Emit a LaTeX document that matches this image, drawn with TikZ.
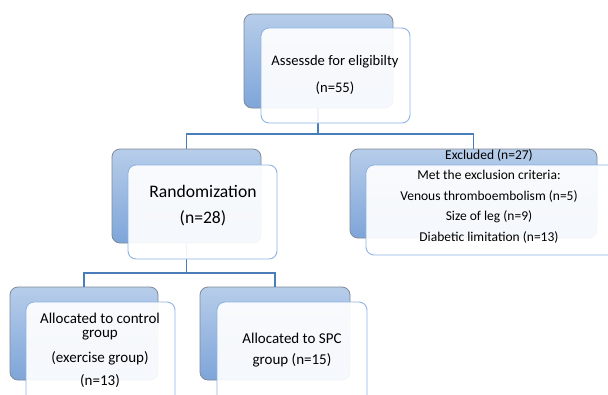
\documentclass[tikz,border=0pt]{standalone}
\usepackage{fontspec}
\setmainfont{Carlito}
\definecolor{bgtop}{HTML}{B7CDEA}
\definecolor{bgbot}{HTML}{7EA5D9}
\definecolor{bgdraw}{HTML}{7F8A96}
\definecolor{fgdraw}{HTML}{8DB4E3}
\definecolor{conn}{HTML}{4A7EBB}
\tikzset{
  backbox/.style={rectangle, rounded corners=8pt, draw=bgdraw, line width=0.8pt,
    top color=bgtop, bottom color=bgbot, inner sep=0pt, outer sep=0pt},
  frontbox/.style={rectangle, rounded corners=8pt, draw=fgdraw, line width=0.9pt,
    fill=white, fill opacity=0.92, draw opacity=1, inner sep=0pt, outer sep=0pt},
  conline/.style={draw=conn, line width=1.6pt},
  txt/.style={inner sep=0pt, align=center, text=black},
}
\begin{document}
\begin{tikzpicture}[x=1pt,y=-1pt]
\clip (0,0) rectangle (608,394);
\fill[white] (0,0) rectangle (608,394);
% back boxes
\node[backbox, minimum width=149pt, minimum height=94pt] (topb) at (318.5,61) {};
\node[backbox, minimum width=149pt, minimum height=94pt] (randb) at (186.5,196) {};
\node[backbox, minimum width=247pt, minimum height=89pt] (exclb) at (473.5,193.5) {};
\node[backbox, minimum width=148pt, minimum height=93pt] (ctrlb) at (84,333.5) {};
\node[backbox, minimum width=150pt, minimum height=93pt] (spcb) at (275,333.5) {};
% connectors (behind front boxes)
\coordinate (j1) at (318,134);
\coordinate (j2) at (186.5,273);
\draw[conline] (j1 |- topb.south) -- (j1);
\draw[conline] (randb.north) -- (randb.north |- j1) -- (exclb.north |- j1) -- (exclb.north);
\draw[conline] (j2 |- randb.south) -- (j2);
\draw[conline] (ctrlb.north) -- (ctrlb.north |- j2) -- (spcb.north |- j2) -- (spcb.north);
% front boxes
\node[frontbox, minimum width=149pt, minimum height=95pt] (topf) at (335.5,75.5) {};
\node[frontbox, minimum width=149pt, minimum height=94pt] (randf) at (202.5,212) {};
\node[frontbox, minimum width=252pt, minimum height=90pt] (exclf) at (492,210) {};
\node[frontbox, minimum width=149pt, minimum height=110pt] (ctrlf) at (100.5,357) {};
\node[frontbox, minimum width=150pt, minimum height=110pt] (spcf) at (292,357) {};
% texts
\node[txt, font=\fontsize{14.6}{16}\selectfont] (t1) at (335,62) {Assessde for eligibilty};
\node[txt, font=\fontsize{14.6}{16}\selectfont] (t2) at (335,88) {(n=55)};
\node[txt, font=\fontsize{17.6}{20}\selectfont] (r1) at (203,191) {Randomization};
\node[txt, font=\fontsize{17.6}{20}\selectfont] (r2) at (203,218) {(n=28)};
\node[txt, font=\fontsize{13.5}{15}\selectfont] (e1) at (489,155) {Excluded (n=27)};
\node[txt, font=\fontsize{13.5}{15}\selectfont] (e2) at (489,175) {Met the exclusion criteria:};
\node[txt, font=\fontsize{13.5}{15}\selectfont] (e3) at (489,196) {Venous thromboembolism (n=5)};
\node[txt, font=\fontsize{13.5}{15}\selectfont] (e4) at (489,217) {Size of leg (n=9)};
\node[txt, font=\fontsize{13.5}{15}\selectfont] (e5) at (489,237) {Diabetic limitation (n=13)};
\node[txt, font=\fontsize{15}{17}\selectfont] (c1) at (100,318) {Allocated to control};
\node[txt, font=\fontsize{15}{17}\selectfont] (c2) at (100,335) {group};
\node[txt, font=\fontsize{15}{17}\selectfont] (c3) at (100,358) {(exercise group)};
\node[txt, font=\fontsize{15}{17}\selectfont] (c4) at (100,381) {(n=13)};
\node[txt, font=\fontsize{15}{17}\selectfont] (s1) at (292,338) {Allocated to SPC};
\node[txt, font=\fontsize{15}{17}\selectfont] (s2) at (292,360) {group (n=15)};
\end{tikzpicture}
\end{document}
